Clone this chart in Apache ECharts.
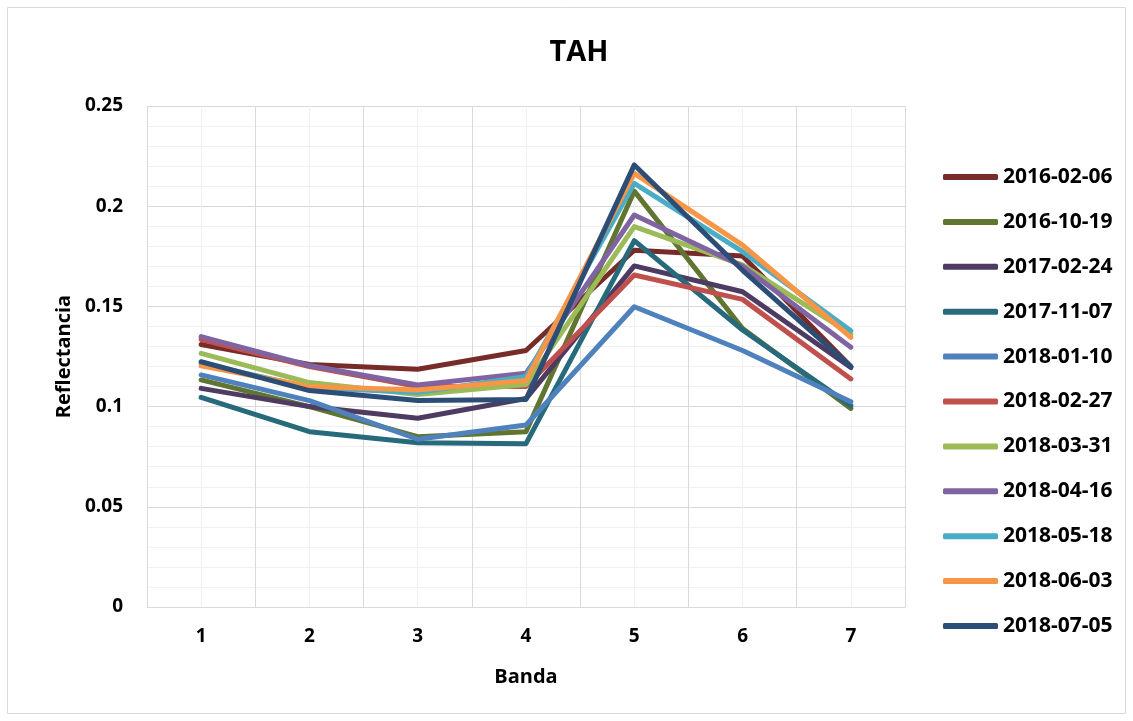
<!DOCTYPE html>
<html>
<head>
<meta charset="utf-8">
<script src="https://cdn.jsdelivr.net/npm/echarts@6/dist/echarts.min.js"></script>
<style>html,body{margin:0;padding:0;background:#fff}#c{width:1133px;height:721px}</style>
</head>
<body>
<div id="c"></div>
<script>
const categories = ['1','2','3','4','5','6','7'];
const yTicks = [0, 0.05, 0.1, 0.15, 0.2, 0.25];
const s20160206 = [0.131, 0.121, 0.1186, 0.128, 0.178, 0.1752, 0.120];
const s20161019 = [0.1133, 0.100, 0.085, 0.0875, 0.2075, 0.139, 0.0991];
const s20170224 = [0.1091, 0.100, 0.0942, 0.104, 0.1702, 0.1573, 0.1195];
const s20171107 = [0.1046, 0.0875, 0.082, 0.0815, 0.1828, 0.1382, 0.1005];
const s20180110 = [0.1158, 0.103, 0.0837, 0.0908, 0.1498, 0.128, 0.1024];
const s20180227 = [0.1335, 0.120, 0.110, 0.110, 0.1657, 0.1535, 0.1138];
const s20180331 = [0.1266, 0.112, 0.106, 0.111, 0.1898, 0.1707, 0.1362];
const s20180416 = [0.1349, 0.1205, 0.1108, 0.1166, 0.1956, 0.170, 0.1296];
const s20180518 = [0.1215, 0.1095, 0.107, 0.115, 0.2114, 0.1773, 0.1379];
const s20180603 = [0.1203, 0.110, 0.1083, 0.113, 0.2164, 0.1806, 0.1346];
const s20180705 = [0.1224, 0.108, 0.103, 0.1036, 0.2206, 0.168, 0.1199];

const names = ['2016-02-06','2016-10-19','2017-02-24','2017-11-07','2018-01-10','2018-02-27','2018-03-31','2018-04-16','2018-05-18','2018-06-03','2018-07-05'];
const values = [s20160206,s20161019,s20170224,s20171107,s20180110,s20180227,s20180331,s20180416,s20180518,s20180603,s20180705];
const colors = ['#772C2A','#5F7530','#4D3B62','#276A7C','#4F81BD','#C0504D','#9BBB59','#8064A2','#4BACC6','#F79646','#2C4D75'];

const font = '"Open Sans", "Noto Sans", sans-serif';
const chart = echarts.init(document.getElementById('c'), null, {renderer: 'canvas'});
chart.setOption({
  animation: false,
  backgroundColor: '#fff',
  graphic: [{type: 'rect', shape: {x: 7.5, y: 7.5, width: 1118, height: 706}, style: {fill: 'none', stroke: '#d9d9d9', lineWidth: 1}, z: -10}],
  title: {text: 'TAH', left: 574, top: 33, textAlign: 'center', textStyle: {fontFamily: font, fontWeight: 'bold', fontSize: 29, color: '#000'}},
  grid: {left: 147, top: 106, right: 228, bottom: 114},
  legend: {
    orient: 'vertical', left: 938, top: 160, itemWidth: 55, itemHeight: 6, itemGap: 20.9, itemTextGap: 5,
    icon: 'roundRect', data: names,
    textStyle: {fontFamily: font, fontWeight: 'bold', fontSize: 21, color: '#000', lineHeight: 24}
  },
  xAxis: [{
    type: 'category', data: categories, boundaryGap: true,
    name: 'Banda', nameLocation: 'middle', nameGap: 60,
    nameTextStyle: {fontFamily: font, fontWeight: 'bold', fontSize: 20, color: '#000'},
    axisLine: {show: true, lineStyle: {color: '#d9d9d9', width: 1}},
    axisTick: {show: false},
    axisLabel: {fontFamily: font, fontWeight: 'bold', fontSize: 19, color: '#000', margin: 20},
    splitLine: {show: true, lineStyle: {color: '#d9d9d9', width: 1}}, z: 2
  }, {
    type: 'value', min: 0, max: 14, interval: 1, show: true, position: 'bottom',
    axisLine: {show: false}, axisTick: {show: false}, axisLabel: {show: false},
    splitLine: {show: true, lineStyle: {color: '#f0f0f0', width: 1}}, z: 0
  }],
  yAxis: {
    type: 'value', min: yTicks[0], max: yTicks[yTicks.length - 1], interval: 0.05,
    name: 'Reflectancia', nameLocation: 'middle', nameGap: 73, nameRotate: 90,
    nameTextStyle: {fontFamily: font, fontWeight: 'bold', fontSize: 20, color: '#000'},
    axisLine: {show: false}, axisTick: {show: false},
    axisLabel: {fontFamily: font, fontWeight: 'bold', fontSize: 19, color: '#000', margin: 24},
    splitLine: {show: true, lineStyle: {color: '#d9d9d9', width: 1}},
    minorTick: {show: false, splitNumber: 5},
    minorSplitLine: {show: true, lineStyle: {color: '#f0f0f0', width: 1}}
  },
  series: names.map((n, i) => ({
    name: n, type: 'line', data: values[i], xAxisIndex: 0, symbol: 'none',
    color: colors[i],
    lineStyle: {width: 5, color: colors[i], cap: 'round', join: 'round'},
    itemStyle: {color: colors[i]}, z: 3 + i
  }))
});
</script>
</body>
</html>
